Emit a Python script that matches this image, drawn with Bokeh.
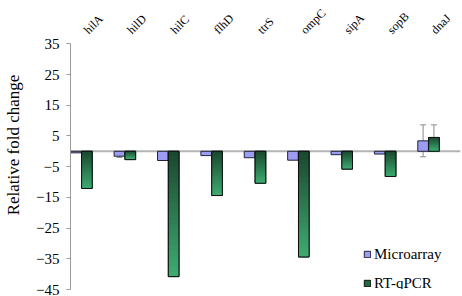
import math
from bokeh.plotting import figure
from bokeh.models import (Range1d, FixedTicker, ColumnDataSource, Span, Whisker,
                          TeeHead, Legend, LegendItem)
from bokeh.core.properties import value
from bokeh.embed import file_html
from bokeh.resources import INLINE

genes = ["hilA", "hilD", "hilC", "flhD", "ttrS", "ompC", "sipA", "sopB", "dnaJ"]
microarray = [-0.5, -1.6, -3.0, -1.4, -2.1, -2.9, -1.1, -0.9, 3.4]
rtqpcr = [-12.1, -2.7, -40.8, -14.4, -10.4, -34.4, -5.8, -8.2, 4.5]
micro_err = [0, 0.4, 0, 0, 0, 0, 0, 0, 5.2]
rt_err = [0, 0, 0, 0, 0, 0, 0, 0, 4.1]
y_ticks = [35, 25, 15, 5, -5, -15, -25, -35, -45]

FONT = "Liberation Serif"
OFF = 0.125
W = 0.245

# y range extends above 35 to leave room for the rotated gene names
p = figure(width=462, height=296, x_range=Range1d(-0.253, 8.737), y_range=Range1d(-45, 49.1),
           output_backend="svg", toolbar_location=None,
           min_border_left=70, min_border_right=2, min_border_top=0, min_border_bottom=7)
p.grid.visible = False
p.xaxis.visible = False
p.outline_line_color = None
p.background_fill_color = "white"
p.border_fill_color = "white"

# zero line
p.add_layout(Span(location=0, dimension="width", line_color="#b4b4b4", line_width=2, level="underlay"))

xs = list(range(len(genes)))

# microarray bars
micro_src = ColumnDataSource(dict(
    left=[x - OFF - W / 2 for x in xs], right=[x - OFF + W / 2 for x in xs],
    top=[max(v, 0) for v in microarray], bottom=[min(v, 0) for v in microarray]))
r_micro = p.quad(left="left", right="right", top="top", bottom="bottom", source=micro_src,
                 fill_color="#9c9cf2", line_color="#22223a", line_width=1)

# RT-qPCR bars: solid base, vertical gradient overlay, outline
rt_src = ColumnDataSource(dict(
    left=[x + OFF - W / 2 for x in xs], right=[x + OFF + W / 2 for x in xs],
    top=[max(v, 0) for v in rtqpcr], bottom=[min(v, 0) for v in rtqpcr]))
r_rt = p.quad(left="left", right="right", top="top", bottom="bottom", source=rt_src,
              fill_color="#236a44", line_color="#101010", line_width=1)

K = 24
dark = (27, 72, 47)
light = (62, 170, 112)
seg = dict(left=[], right=[], top=[], bottom=[], color=[])
for x, v in zip(xs, rtqpcr):
    t, b = max(v, 0), min(v, 0)
    for j in range(K):
        f = j / (K - 1)
        c = tuple(int(round(dark[k] + (light[k] - dark[k]) * f)) for k in range(3))
        seg["left"].append(x + OFF - W / 2)
        seg["right"].append(x + OFF + W / 2)
        seg["top"].append(t - (t - b) * j / K)
        seg["bottom"].append(t - (t - b) * (j + 1) / K)
        seg["color"].append("#%02x%02x%02x" % c)
p.quad(left="left", right="right", top="top", bottom="bottom", source=ColumnDataSource(seg),
       fill_color="color", line_color="color", line_width=0.8)
p.quad(left="left", right="right", top="top", bottom="bottom", source=rt_src,
       fill_color=None, line_color="#101010", line_width=1)

# error bars
ex, ev, ee = [], [], []
for x, v, e in zip(xs, microarray, micro_err):
    if e > 0:
        ex.append(x - OFF); ev.append(v); ee.append(e)
for x, v, e in zip(xs, rtqpcr, rt_err):
    if e > 0:
        ex.append(x + OFF); ev.append(v); ee.append(e)
err_src = ColumnDataSource(dict(x=ex, upper=[v + e for v, e in zip(ev, ee)],
                                lower=[v - e for v, e in zip(ev, ee)]))
p.add_layout(Whisker(source=err_src, base="x", upper="upper", lower="lower",
                     line_color="#8a8a8a", line_width=1,
                     upper_head=TeeHead(size=6, line_color="#8a8a8a", line_width=1),
                     lower_head=TeeHead(size=6, line_color="#8a8a8a", line_width=1)))

# y axis
ya = p.yaxis[0]
ya.ticker = FixedTicker(ticks=y_ticks)
ya.bounds = (min(y_ticks), max(y_ticks))
ya.axis_line_color = "#9a9a9a"
ya.major_tick_line_color = "#9a9a9a"
ya.major_tick_out = 4
ya.major_tick_in = 0
ya.minor_tick_line_color = None
ya.major_label_text_font = FONT
ya.major_label_text_font_size = "15px"
ya.major_label_text_color = "black"
ya.major_label_standoff = 7
ya.axis_label = "Relative fold change"
ya.axis_label_text_font = FONT
ya.axis_label_text_font_size = "17px"
ya.axis_label_text_font_style = "normal"
ya.axis_label_text_color = "black"
ya.axis_label_text_line_height = 0.8
ya.axis_label_standoff = 10

# rotated gene names above the bars
lab_src = ColumnDataSource(dict(x=[x + 0.1 for x in xs], y=[38.9] * len(xs), text=genes))
p.text(x="x", y="y", text="text", source=lab_src, angle=math.pi / 4,
       text_align="left", text_baseline="alphabetic",
       text_font=value(FONT), text_font_size=value("12px"), text_color="black")

legend = Legend(items=[LegendItem(label="Microarray", renderers=[r_micro]),
                       LegendItem(label="RT-qPCR", renderers=[r_rt])],
                location=(293, -4), orientation="vertical",
                glyph_width=8, glyph_height=8, label_height=20, label_standoff=3,
                spacing=9, padding=0, margin=0,
                border_line_color=None, background_fill_alpha=0,
                label_text_font=FONT, label_text_font_size="15px", label_text_color="black")
p.add_layout(legend)

open("out.html", "w").write(file_html(p, INLINE))
